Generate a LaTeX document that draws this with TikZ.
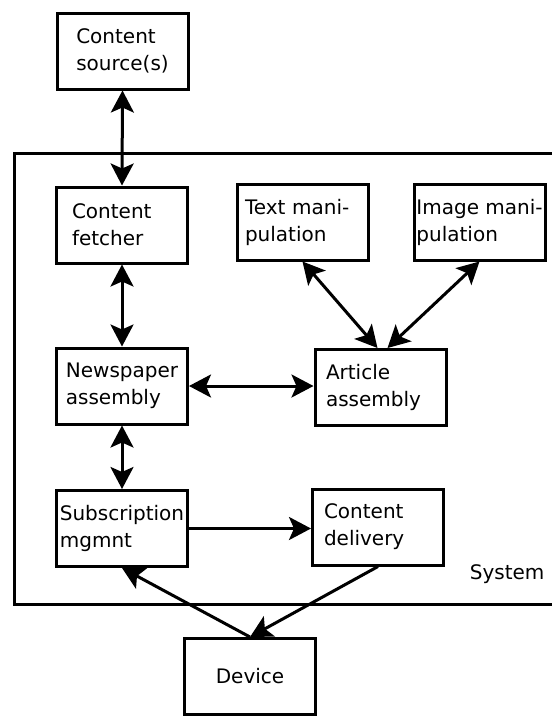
\documentclass[tikz,border=0pt]{standalone}
\usepackage{fontspec}
\setmainfont{DejaVu Sans}
\usetikzlibrary{arrows.meta}

\begin{document}
\begin{tikzpicture}[x=1pt,y=-1pt,>={Stealth[length=22pt,width=23pt,inset=5pt]},
    box/.style={draw,line width=3pt,minimum width=131pt,minimum height=76pt,
      align=left,inner sep=2pt,font=\fontsize{20}{27}\selectfont},
    link/.style={line width=3pt,<->},
    feed/.style={line width=3pt,->}]
  \clip (0,0) rectangle (552,716);
  \draw[line width=3pt] (14.5,153) rectangle (560,604.5);
  \node[anchor=base east,font=\fontsize{20}{24}\selectfont] (sys) at (548,579) {System};
  \node[box] (src)   at (122.5,51)  {Content\\source(s)};
  \node[box,text width=100pt] (fetch) at (122,225) {Content\\fetcher};
  \node[box,text width=115pt] (text)  at (302.5,222) {Text mani-\\pulation};
  \node[box] (image) at (479.5,222) {Image mani-\\pulation};
  \node[box] (news)  at (122,386)   {Newspaper\\assembly};
  \node[box,text width=109pt] (art)   at (380.5,387.5) {Article\\assembly};
  \node[box] (subs)  at (122,528.5) {Subscription\\mgmnt};
  \node[box,text width=108pt] (deliv) at (378,527) {Content\\delivery};
  \node[box] (dev)   at (250,676.5) {Device};
  \draw[link] (src.south) -- (fetch.north);
  \draw[link] (fetch.south) -- (news.north);
  \draw[link] (news.south) -- (subs.north);
  \draw[link] (news.east) -- (news.east -| art.west);
  \draw[link] (text.south) -- ([xshift=-3pt]art.north);
  \draw[link] (image.south) -- ([xshift=7pt]art.north);
  \draw[feed] (subs.east) -- (subs.east -| deliv.west);
  \draw[feed] (dev.north) -- (subs.south);
  \draw[feed] (deliv.south) -- (dev.north);
\end{tikzpicture}
\end{document}
